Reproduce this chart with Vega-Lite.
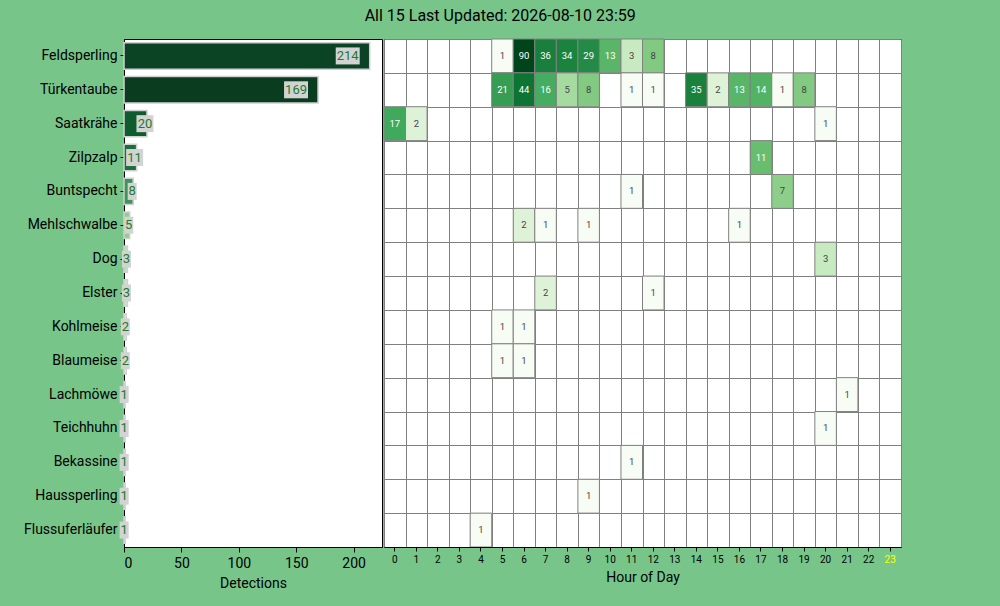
{
  "$schema": "https://vega.github.io/schema/vega-lite/v6.json",
  "background": "#77c589",
  "padding": {"left": 22, "top": 8, "right": 100, "bottom": 20},
  "title": {
    "text": "All 15 Last Updated: 2026-08-10 23:59",
    "fontSize": 16,
    "fontWeight": "normal",
    "font": "Roboto",
    "color": "black",
    "anchor": "middle",
    "frame": "bounds",
    "dx": 38,
    "offset": 14
  },
  "datasets": {
    "totals": [
      {"species": "Feldsperling", "count": 214},
      {"species": "Türkentaube", "count": 169},
      {"species": "Saatkrähe", "count": 20},
      {"species": "Zilpzalp", "count": 11},
      {"species": "Buntspecht", "count": 8},
      {"species": "Mehlschwalbe", "count": 5},
      {"species": "Dog", "count": 3},
      {"species": "Elster", "count": 3},
      {"species": "Kohlmeise", "count": 2},
      {"species": "Blaumeise", "count": 2},
      {"species": "Lachmöwe", "count": 1},
      {"species": "Teichhuhn", "count": 1},
      {"species": "Bekassine", "count": 1},
      {"species": "Haussperling", "count": 1},
      {"species": "Flussuferläufer", "count": 1}
    ],
    "cells": [
      {"species": "Feldsperling", "hour": 5, "count": 1},
      {"species": "Feldsperling", "hour": 6, "count": 90},
      {"species": "Feldsperling", "hour": 7, "count": 36},
      {"species": "Feldsperling", "hour": 8, "count": 34},
      {"species": "Feldsperling", "hour": 9, "count": 29},
      {"species": "Feldsperling", "hour": 10, "count": 13},
      {"species": "Feldsperling", "hour": 11, "count": 3},
      {"species": "Feldsperling", "hour": 12, "count": 8},
      {"species": "Türkentaube", "hour": 5, "count": 21},
      {"species": "Türkentaube", "hour": 6, "count": 44},
      {"species": "Türkentaube", "hour": 7, "count": 16},
      {"species": "Türkentaube", "hour": 8, "count": 5},
      {"species": "Türkentaube", "hour": 9, "count": 8},
      {"species": "Türkentaube", "hour": 11, "count": 1},
      {"species": "Türkentaube", "hour": 12, "count": 1},
      {"species": "Türkentaube", "hour": 14, "count": 35},
      {"species": "Türkentaube", "hour": 15, "count": 2},
      {"species": "Türkentaube", "hour": 16, "count": 13},
      {"species": "Türkentaube", "hour": 17, "count": 14},
      {"species": "Türkentaube", "hour": 18, "count": 1},
      {"species": "Türkentaube", "hour": 19, "count": 8},
      {"species": "Saatkrähe", "hour": 0, "count": 17},
      {"species": "Saatkrähe", "hour": 1, "count": 2},
      {"species": "Saatkrähe", "hour": 20, "count": 1},
      {"species": "Zilpzalp", "hour": 17, "count": 11},
      {"species": "Buntspecht", "hour": 11, "count": 1},
      {"species": "Buntspecht", "hour": 18, "count": 7},
      {"species": "Mehlschwalbe", "hour": 6, "count": 2},
      {"species": "Mehlschwalbe", "hour": 7, "count": 1},
      {"species": "Mehlschwalbe", "hour": 9, "count": 1},
      {"species": "Mehlschwalbe", "hour": 16, "count": 1},
      {"species": "Dog", "hour": 20, "count": 3},
      {"species": "Elster", "hour": 7, "count": 2},
      {"species": "Elster", "hour": 12, "count": 1},
      {"species": "Kohlmeise", "hour": 5, "count": 1},
      {"species": "Kohlmeise", "hour": 6, "count": 1},
      {"species": "Blaumeise", "hour": 5, "count": 1},
      {"species": "Blaumeise", "hour": 6, "count": 1},
      {"species": "Lachmöwe", "hour": 21, "count": 1},
      {"species": "Teichhuhn", "hour": 20, "count": 1},
      {"species": "Bekassine", "hour": 11, "count": 1},
      {"species": "Haussperling", "hour": 9, "count": 1},
      {"species": "Flussuferläufer", "hour": 4, "count": 1}
    ]
  },
  "hconcat": [
    {
      "width": 258,
      "height": 508,
      "data": {"name": "totals"},
      "encoding": {
        "y": {
          "field": "species",
          "type": "nominal",
          "sort": null,
          "scale": {"paddingInner": 0.22, "paddingOuter": 0.11},
          "axis": {"title": null, "labelFontSize": 14, "tickSize": 4, "labelPadding": 3}
        },
        "x": {
          "field": "count",
          "type": "quantitative",
          "scale": {"domain": [0, 224.7], "nice": false},
          "axis": {
            "title": "Detections",
            "values": [0, 50, 100, 150, 200],
            "grid": false,
            "labelFontSize": 14,
            "titleFontSize": 14,
            "tickSize": 5,
            "labelPadding": 4,
            "titlePadding": 6
          }
        }
      },
      "layer": [
        {
          "mark": {"type": "bar", "stroke": "#d0d0d0", "strokeWidth": 1.5},
          "encoding": {
            "color": {
              "field": "species",
              "type": "nominal",
              "legend": null,
              "scale": {
                "domain": ["Feldsperling", "Türkentaube", "Saatkrähe", "Zilpzalp", "Buntspecht", "Mehlschwalbe", "Dog", "Elster", "Kohlmeise", "Blaumeise", "Lachmöwe", "Teichhuhn", "Bekassine", "Haussperling", "Flussuferläufer"],
                "range": ["#0b4425", "#0a3c20", "#0e5b2e", "#1b6f3a", "#3f945a", "#8ccf92", "#b9e2b4", "#c5e8bf", "#dcf1d6", "#dcf1d6", "#eef8eb", "#eef8eb", "#eef8eb", "#eef8eb", "#eef8eb"]
              }
            }
          }
        },
        {
          "transform": [{"filter": "datum.count >= 100"}],
          "layer": [
            {"mark": {"type": "point", "shape": "M-1.41,-1H1.41V1H-1.41Z", "size": 289, "filled": true, "color": "#d3d3d3", "opacity": 1, "strokeWidth": 0, "xOffset": -22}},
            {"mark": {"type": "text", "fontSize": 13, "color": "#217a2e", "baseline": "middle", "align": "center", "xOffset": -22}, "encoding": {"text": {"field": "count"}}}
          ]
        },
        {
          "transform": [{"filter": "datum.count >= 10 && datum.count < 100"}],
          "layer": [
            {"mark": {"type": "point", "shape": "M-1,-1H1V1H-1Z", "size": 289, "filled": true, "color": "#d3d3d3", "opacity": 1, "strokeWidth": 0, "xOffset": -2}},
            {"mark": {"type": "text", "fontSize": 13, "color": "#217a2e", "baseline": "middle", "align": "center", "xOffset": -2}, "encoding": {"text": {"field": "count"}}}
          ]
        },
        {
          "transform": [{"filter": "datum.count < 10"}],
          "layer": [
            {"mark": {"type": "point", "shape": "M-0.53,-1H0.53V1H-0.53Z", "size": 289, "filled": true, "color": "#d3d3d3", "opacity": 1, "strokeWidth": 0, "xOffset": -1}},
            {"mark": {"type": "text", "fontSize": 13, "color": "#217a2e", "baseline": "middle", "align": "center", "xOffset": -1}, "encoding": {"text": {"field": "count"}}}
          ]
        }
      ]
    },
    {
      "width": 517,
      "height": 508,
      "data": {"name": "cells"},
      "layer": [
        {
          "mark": {"type": "rect", "stroke": "#808080", "strokeWidth": 1},
          "encoding": {
            "x": {
              "field": "hour",
              "type": "ordinal",
              "scale": {"domain": [0, 1, 2, 3, 4, 5, 6, 7, 8, 9, 10, 11, 12, 13, 14, 15, 16, 17, 18, 19, 20, 21, 22, 23], "paddingInner": 0, "paddingOuter": 0},
              "axis": {
                "orient": "bottom",
                "title": "Hour of Day",
                "labelAngle": 0,
                "labelFontSize": 10,
                "titleFontSize": 14,
                "tickSize": 4,
                "labelPadding": 3,
                "titlePadding": 6,
                "grid": false,
                "labelColor": {"condition": {"test": "datum.value == 23", "value": "yellow"}, "value": "black"}
              }
            },
            "y": {
              "field": "species",
              "type": "nominal",
              "scale": {"domain": ["Feldsperling", "Türkentaube", "Saatkrähe", "Zilpzalp", "Buntspecht", "Mehlschwalbe", "Dog", "Elster", "Kohlmeise", "Blaumeise", "Lachmöwe", "Teichhuhn", "Bekassine", "Haussperling", "Flussuferläufer"], "paddingInner": 0, "paddingOuter": 0},
              "axis": null
            },
            "color": {
              "field": "count",
              "type": "quantitative",
              "scale": {
                "type": "log",
                "domain": [1, 1.755, 3.08, 5.405, 9.487, 16.65, 29.22, 51.28, 90],
                "range": ["#f7fcf5", "#e5f5e0", "#c7e9c0", "#a1d99b", "#74c476", "#41ab5d", "#238b45", "#006d2c", "#00441b"]
              },
              "legend": null
            }
          }
        },
        {
          "mark": {"type": "text", "fontSize": 9.5, "baseline": "middle", "align": "center"},
          "encoding": {
            "x": {
              "field": "hour",
              "type": "ordinal",
              "scale": {"domain": [0, 1, 2, 3, 4, 5, 6, 7, 8, 9, 10, 11, 12, 13, 14, 15, 16, 17, 18, 19, 20, 21, 22, 23], "paddingInner": 0, "paddingOuter": 0},
              "axis": {"orient": "top", "grid": true, "tickBand": "extent", "labels": false, "ticks": false, "domain": false, "title": null, "gridColor": "#808080", "gridOpacity": 1, "gridWidth": 1}
            },
            "y": {
              "field": "species",
              "type": "nominal",
              "scale": {"domain": ["Feldsperling", "Türkentaube", "Saatkrähe", "Zilpzalp", "Buntspecht", "Mehlschwalbe", "Dog", "Elster", "Kohlmeise", "Blaumeise", "Lachmöwe", "Teichhuhn", "Bekassine", "Haussperling", "Flussuferläufer"], "paddingInner": 0, "paddingOuter": 0},
              "axis": {"orient": "right", "grid": true, "tickBand": "extent", "labels": false, "ticks": false, "domain": false, "title": null, "gridColor": "#808080", "gridOpacity": 1, "gridWidth": 1}
            },
            "text": {"field": "count"},
            "color": {"condition": {"test": "datum.count >= 10", "value": "white"}, "value": "#444444"}
          }
        }
      ],
      "resolve": {"axis": {"x": "independent", "y": "independent"}}
    }
  ],
  "spacing": 0,
  "resolve": {"scale": {"color": "independent"}},
  "config": {
    "font": "Roboto",
    "view": {"stroke": "black", "fill": "white"},
    "axis": {
      "domainColor": "black",
      "tickColor": "black",
      "labelColor": "black",
      "titleColor": "black",
      "titleFontWeight": "normal",
      "labelFont": "Roboto",
      "titleFont": "Roboto"
    }
  }
}
